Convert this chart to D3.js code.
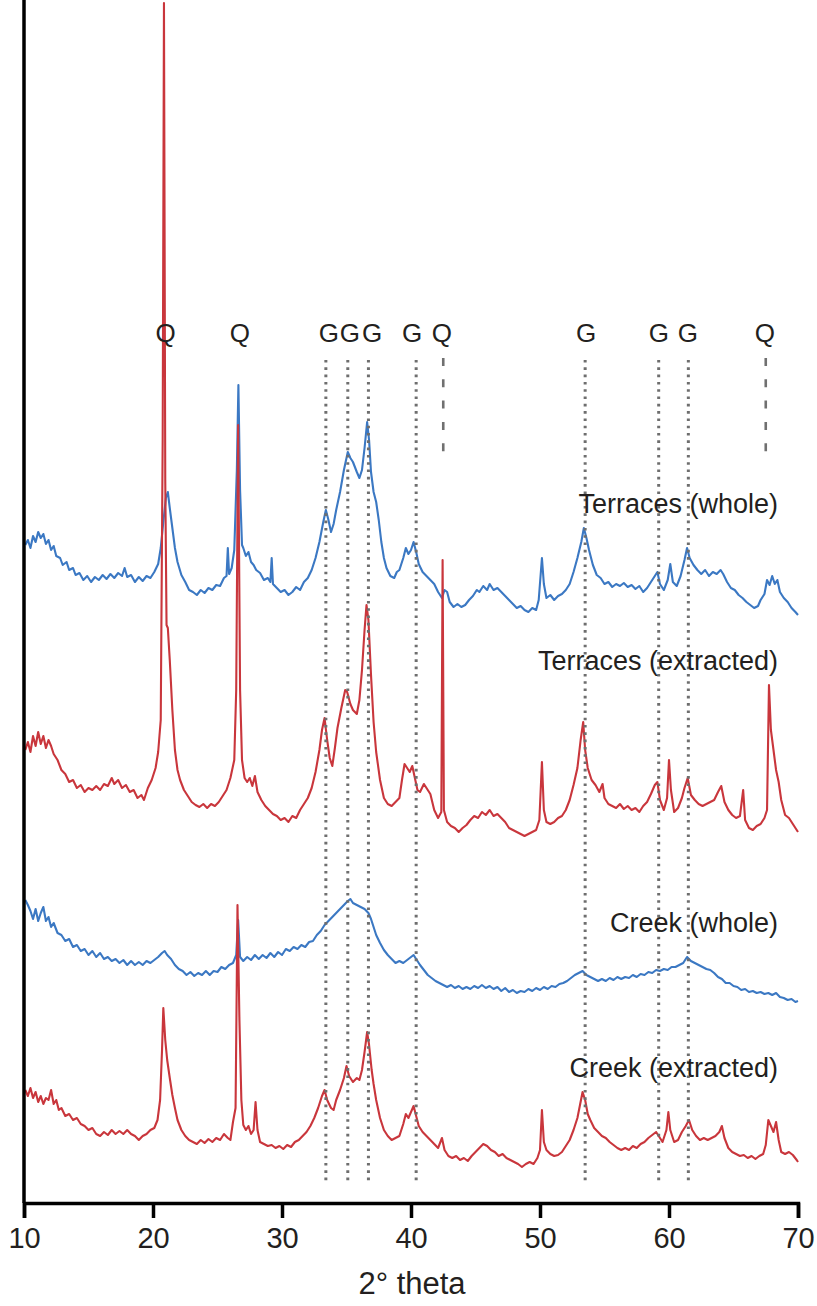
<!DOCTYPE html>
<html>
<head>
<meta charset="utf-8">
<script src="https://cdn.jsdelivr.net/npm/d3@7"></script>
<style>
  body { margin: 0; background: #fff; }
  svg { display: block; }
</style>
</head>
<body>
<div id="chart"></div>
<script>
// XRD patterns, 2-theta vs intensity (arbitrary units)

const terracesWhole = [
  [10.1,75],[10.3,80],[10.5,72],[10.7,84],[10.9,78],[11.1,88],[11.3,82],[11.5,86],[11.7,76],[11.9,80],
  [12.1,70],[12.3,74],[12.5,64],[12.8,62],[13.0,55],[13.3,58],[13.5,50],[13.8,52],[14.0,45],[14.3,47],
  [14.6,40],[14.9,44],[15.2,38],[15.5,43],[15.8,40],[16.1,45],[16.4,41],[16.7,46],[17.0,42],[17.3,47],
  [17.6,44],[17.8,52],[18.0,43],[18.3,45],[18.6,38],[18.9,43],[19.2,39],[19.5,44],[19.8,42],[20.1,48],
  [20.4,56],[20.6,72],[20.8,98],[21.0,122],[21.15,128],[21.3,112],[21.5,92],[21.7,72],[21.9,58],[22.2,45],
  [22.5,38],[22.8,30],[23.1,28],[23.4,25],[23.7,30],[24.0,27],[24.3,32],[24.6,30],[24.9,35],[25.2,34],
  [25.5,42],[25.7,44],[25.8,72],[25.9,46],[26.1,52],[26.3,70],[26.5,150],[26.62,235],[26.75,130],[26.9,75],
  [27.0,72],[27.2,64],[27.4,68],[27.6,58],[27.8,55],[28.0,50],[28.3,47],[28.6,40],[28.9,42],[29.1,38],
  [29.2,62],[29.3,36],[29.6,32],[29.9,28],[30.2,30],[30.5,25],[30.8,28],[31.1,33],[31.4,30],[31.7,38],
  [32.0,42],[32.3,50],[32.6,62],[32.9,78],[33.2,98],[33.4,110],[33.6,100],[33.8,88],[34.0,96],[34.2,110],
  [34.5,128],[34.8,150],[35.1,168],[35.3,162],[35.5,158],[35.8,148],[36.0,142],[36.2,150],[36.4,172],[36.6,198],
  [36.75,180],[36.9,148],[37.1,128],[37.3,118],[37.5,100],[37.7,78],[37.9,62],[38.1,52],[38.4,44],[38.7,42],
  [38.9,48],[39.1,50],[39.4,62],[39.6,72],[39.8,66],[40.0,70],[40.2,78],[40.4,68],[40.6,56],[40.9,48],
  [41.2,44],[41.5,40],[41.8,36],[42.1,28],[42.4,22],[42.6,30],[42.8,28],[43.0,18],[43.3,13],[43.6,16],
  [43.9,13],[44.2,15],[44.5,20],[44.8,24],[45.1,30],[45.3,28],[45.6,34],[45.9,30],[46.1,36],[46.4,30],
  [46.7,32],[47.0,28],[47.3,24],[47.6,20],[47.9,16],[48.2,12],[48.5,14],[48.8,10],[49.1,8],[49.4,12],
  [49.7,10],[49.9,20],[50.15,62],[50.3,36],[50.5,22],[50.8,25],[51.1,20],[51.4,24],[51.7,26],[52.0,30],
  [52.3,36],[52.6,48],[52.9,62],[53.2,78],[53.4,92],[53.6,82],[53.8,70],[54.1,55],[54.4,45],[54.7,42],
  [55.0,36],[55.3,38],[55.6,33],[55.9,36],[56.2,34],[56.5,37],[56.8,33],[57.1,35],[57.4,31],[57.7,34],
  [58.0,28],[58.3,32],[58.6,38],[58.9,44],[59.1,48],[59.3,36],[59.6,30],[59.9,40],[60.1,56],[60.3,38],
  [60.6,34],[60.9,44],[61.2,60],[61.4,72],[61.6,62],[61.9,55],[62.2,50],[62.5,46],[62.8,50],[63.1,44],
  [63.4,48],[63.7,46],[64.0,50],[64.2,46],[64.5,38],[64.8,32],[65.1,30],[65.4,25],[65.7,22],[66.0,18],
  [66.3,15],[66.6,12],[66.9,14],[67.1,20],[67.4,26],[67.6,40],[67.8,35],[68.0,44],[68.2,36],[68.4,40],
  [68.6,28],[68.9,22],[69.2,18],[69.5,12],[69.8,8],[70.0,5]
];

const terracesExtracted = [
  [10.1,90],[10.3,98],[10.5,88],[10.7,104],[10.9,94],[11.1,108],[11.3,96],[11.5,104],[11.7,92],[11.9,100],
  [12.1,94],[12.3,86],[12.6,80],[12.9,70],[13.2,66],[13.5,58],[13.8,60],[14.1,52],[14.4,55],[14.7,48],
  [15.0,52],[15.3,50],[15.6,54],[15.9,50],[16.2,56],[16.5,54],[16.8,62],[17.0,56],[17.3,60],[17.6,52],
  [17.9,55],[18.2,48],[18.5,50],[18.8,42],[19.1,45],[19.3,40],[19.6,52],[19.9,60],[20.2,72],[20.4,88],
  [20.6,120],[20.75,400],[20.85,837],[20.95,360],[21.05,215],[21.15,212],[21.3,180],[21.5,130],[21.7,90],[21.9,70],
  [22.1,60],[22.4,50],[22.7,44],[23.0,38],[23.3,35],[23.6,33],[23.9,36],[24.2,32],[24.5,36],[24.8,34],
  [25.1,38],[25.4,44],[25.7,50],[26.0,62],[26.3,80],[26.45,150],[26.6,415],[26.75,150],[26.9,80],[27.1,62],
  [27.3,58],[27.5,62],[27.7,54],[27.9,64],[28.1,48],[28.4,40],[28.7,34],[29.0,30],[29.3,26],[29.6,24],
  [29.9,20],[30.2,22],[30.5,18],[30.8,24],[31.1,22],[31.4,30],[31.7,36],[32.0,42],[32.3,52],[32.6,68],
  [32.9,90],[33.1,110],[33.3,122],[33.5,100],[33.7,82],[33.9,74],[34.1,92],[34.3,112],[34.6,132],[34.9,150],
  [35.05,148],[35.3,136],[35.5,130],[35.8,126],[36.0,140],[36.2,170],[36.4,210],[36.55,235],[36.7,220],[36.9,165],
  [37.1,118],[37.3,88],[37.6,60],[37.9,42],[38.2,36],[38.5,34],[38.8,38],[39.1,42],[39.3,60],[39.5,76],
  [39.7,72],[39.9,68],[40.1,74],[40.3,62],[40.5,50],[40.7,48],[41.0,56],[41.2,52],[41.5,46],[41.8,30],
  [42.1,22],[42.35,28],[42.45,280],[42.55,30],[42.8,18],[43.1,14],[43.4,12],[43.7,8],[44.0,12],[44.3,15],
  [44.6,20],[44.9,24],[45.2,22],[45.5,28],[45.8,25],[46.1,30],[46.4,24],[46.7,26],[47.0,22],[47.3,18],
  [47.6,12],[47.9,10],[48.2,8],[48.5,6],[48.8,4],[49.1,6],[49.4,8],[49.7,10],[49.95,20],[50.15,78],
  [50.3,30],[50.5,18],[50.8,16],[51.1,18],[51.4,22],[51.7,24],[52.0,30],[52.3,40],[52.6,55],[52.9,72],
  [53.15,100],[53.35,118],[53.5,90],[53.7,72],[54.0,60],[54.3,55],[54.6,48],[54.85,56],[55.0,42],[55.3,36],
  [55.6,34],[55.9,32],[56.2,36],[56.5,31],[56.8,34],[57.1,30],[57.4,32],[57.7,28],[58.0,34],[58.3,38],
  [58.6,46],[58.9,55],[59.1,58],[59.3,40],[59.6,30],[59.85,42],[60.0,80],[60.15,50],[60.4,28],[60.7,32],
  [61.0,42],[61.2,52],[61.45,62],[61.7,45],[62.0,40],[62.3,36],[62.6,34],[62.9,36],[63.2,38],[63.5,40],
  [63.8,48],[64.05,54],[64.3,38],[64.6,30],[64.9,25],[65.2,22],[65.5,24],[65.75,50],[65.9,20],[66.2,12],
  [66.5,10],[66.8,14],[67.1,16],[67.4,22],[67.6,30],[67.75,155],[67.9,110],[68.1,90],[68.3,70],[68.5,58],
  [68.7,40],[69.0,25],[69.3,22],[69.6,16],[69.9,10],[70.0,8]
];

const creekWhole = [
  [10.1,105],[10.3,100],[10.5,94],[10.7,86],[10.9,96],[11.1,84],[11.3,92],[11.5,98],[11.7,84],[11.9,88],
  [12.1,78],[12.3,82],[12.6,72],[12.9,70],[13.2,64],[13.5,66],[13.8,58],[14.1,60],[14.4,54],[14.7,56],
  [15.0,50],[15.3,54],[15.6,48],[15.9,52],[16.2,46],[16.5,48],[16.8,44],[17.1,46],[17.4,42],[17.7,45],
  [18.0,40],[18.3,44],[18.6,40],[18.9,43],[19.2,40],[19.5,44],[19.8,42],[20.1,45],[20.4,48],[20.7,52],
  [20.9,54],[21.1,50],[21.4,46],[21.7,40],[22.0,36],[22.3,34],[22.6,30],[22.9,33],[23.2,29],[23.5,32],
  [23.8,30],[24.1,34],[24.4,30],[24.7,34],[25.0,33],[25.3,38],[25.6,36],[25.9,40],[26.2,42],[26.45,50],
  [26.6,85],[26.75,48],[27.0,44],[27.3,48],[27.6,45],[27.9,50],[28.2,46],[28.5,50],[28.8,47],[29.1,52],
  [29.4,48],[29.7,53],[30.0,50],[30.3,56],[30.6,54],[30.9,58],[31.2,56],[31.5,60],[31.8,58],[32.1,63],
  [32.4,64],[32.7,70],[33.0,74],[33.3,80],[33.6,84],[33.9,88],[34.2,92],[34.5,96],[34.8,100],[35.1,104],
  [35.3,106],[35.5,102],[35.8,100],[36.1,98],[36.4,96],[36.7,92],[36.9,86],[37.1,78],[37.3,70],[37.6,62],
  [37.9,55],[38.2,50],[38.5,46],[38.8,42],[39.1,44],[39.4,42],[39.7,45],[40.0,48],[40.2,50],[40.4,46],
  [40.7,40],[41.0,35],[41.3,30],[41.6,27],[41.9,24],[42.2,22],[42.5,20],[42.8,18],[43.1,20],[43.4,17],
  [43.7,19],[44.0,16],[44.3,18],[44.6,16],[44.9,19],[45.2,17],[45.5,20],[45.8,17],[46.1,19],[46.4,16],
  [46.7,18],[47.0,14],[47.3,17],[47.6,13],[47.9,15],[48.2,12],[48.5,14],[48.8,13],[49.1,16],[49.4,14],
  [49.7,17],[50.0,15],[50.3,18],[50.6,16],[50.9,19],[51.2,18],[51.5,21],[51.8,22],[52.1,24],[52.4,27],
  [52.7,30],[53.0,32],[53.3,34],[53.6,30],[53.9,28],[54.2,26],[54.5,24],[54.8,26],[55.1,24],[55.4,27],
  [55.7,25],[56.0,28],[56.3,26],[56.6,28],[56.9,27],[57.2,30],[57.5,28],[57.8,31],[58.1,30],[58.4,33],
  [58.7,32],[59.0,35],[59.3,34],[59.6,36],[59.9,35],[60.2,38],[60.5,38],[60.8,40],[61.1,42],[61.4,48],
  [61.7,44],[62.0,42],[62.3,40],[62.6,38],[62.9,36],[63.2,35],[63.5,32],[63.8,28],[64.1,26],[64.4,22],
  [64.7,22],[65.0,19],[65.3,18],[65.6,15],[65.9,16],[66.2,13],[66.5,14],[66.8,12],[67.1,13],[67.4,11],
  [67.7,12],[68.0,10],[68.3,12],[68.6,8],[68.9,7],[69.2,5],[69.5,6],[69.8,3],[70.0,4]
];

const creekExtracted = [
  [10.1,80],[10.3,74],[10.5,82],[10.7,72],[10.9,78],[11.1,68],[11.3,74],[11.5,66],[11.7,72],[11.9,70],
  [12.1,80],[12.3,66],[12.5,70],[12.7,60],[12.9,62],[13.2,54],[13.5,56],[13.8,50],[14.1,52],[14.4,46],
  [14.7,44],[15.0,40],[15.3,42],[15.6,36],[15.9,34],[16.2,38],[16.5,35],[16.8,40],[17.1,36],[17.4,39],
  [17.7,36],[18.0,40],[18.3,36],[18.6,34],[18.9,30],[19.2,34],[19.5,36],[19.8,40],[20.1,42],[20.35,50],
  [20.55,70],[20.7,120],[20.8,162],[20.95,130],[21.1,110],[21.3,92],[21.5,75],[21.7,62],[21.9,50],[22.2,40],
  [22.5,34],[22.8,30],[23.1,28],[23.4,26],[23.7,30],[24.0,27],[24.3,31],[24.6,28],[24.9,32],[25.2,30],
  [25.5,36],[25.8,32],[26.0,30],[26.2,48],[26.4,62],[26.55,265],[26.7,150],[26.85,70],[27.0,45],[27.2,40],
  [27.4,44],[27.6,36],[27.8,40],[27.95,68],[28.1,40],[28.3,28],[28.6,26],[28.9,24],[29.2,25],[29.5,22],
  [29.8,24],[30.1,21],[30.4,25],[30.7,23],[31.0,28],[31.3,30],[31.6,34],[31.9,38],[32.2,44],[32.5,52],
  [32.8,62],[33.1,74],[33.3,80],[33.5,70],[33.8,62],[34.0,60],[34.2,70],[34.5,80],[34.8,92],[35.0,104],
  [35.2,94],[35.5,88],[35.8,92],[36.0,90],[36.2,100],[36.4,118],[36.6,138],[36.75,125],[36.95,100],[37.1,86],
  [37.3,70],[37.6,52],[37.9,40],[38.2,34],[38.5,30],[38.8,32],[39.1,34],[39.4,46],[39.6,56],[39.8,52],
  [40.0,58],[40.2,64],[40.4,54],[40.6,44],[40.9,38],[41.2,34],[41.5,30],[41.8,26],[42.1,22],[42.4,32],
  [42.6,20],[42.9,14],[43.2,12],[43.5,14],[43.8,10],[44.1,12],[44.4,9],[44.7,14],[45.0,18],[45.3,22],
  [45.6,26],[45.9,24],[46.2,20],[46.5,18],[46.8,14],[47.1,16],[47.4,12],[47.7,10],[48.0,8],[48.3,6],
  [48.6,3],[48.9,6],[49.2,8],[49.5,6],[49.8,12],[50.0,20],[50.15,60],[50.3,28],[50.5,20],[50.8,16],
  [51.1,14],[51.4,15],[51.7,18],[52.0,24],[52.3,30],[52.6,40],[52.9,52],[53.1,65],[53.3,78],[53.5,70],
  [53.7,56],[53.9,50],[54.2,42],[54.5,38],[54.8,34],[55.1,32],[55.4,28],[55.7,25],[56.0,22],[56.3,20],
  [56.6,22],[56.9,20],[57.2,24],[57.5,22],[57.8,26],[58.1,28],[58.4,32],[58.7,35],[59.0,38],[59.2,34],
  [59.5,28],[59.8,40],[59.95,58],[60.1,40],[60.4,28],[60.7,30],[61.0,38],[61.3,44],[61.55,50],[61.8,40],
  [62.1,34],[62.4,30],[62.7,32],[63.0,30],[63.3,32],[63.6,34],[63.9,38],[64.1,44],[64.3,32],[64.6,22],
  [64.9,18],[65.2,16],[65.5,14],[65.8,15],[66.1,12],[66.4,14],[66.7,11],[67.0,14],[67.3,16],[67.5,25],
  [67.7,50],[67.9,44],[68.1,38],[68.3,48],[68.5,30],[68.7,18],[69.0,16],[69.3,18],[69.6,15],[69.9,10],
  [70.0,8]
];

// series names, stacking offsets and colours
const seriesNames = ["Terraces (whole)", "Terraces (extracted)", "Creek (whole)", "Creek (extracted)"];
const seriesData = [terracesWhole, terracesExtracted, creekWhole, creekExtracted];
const seriesOffsets = [583, 363, 198, 33];
const seriesLabelY = [107, 170, 73, 93];
const seriesColors = ["#3b78c3", "#c9363c", "#3b78c3", "#c9363c"];

// phase markers: G = goethite (dotted), Q = quartz (dashed)
const markerLines = [33.4, 35.1, 36.7, 40.4, 53.5, 59.2, 61.5];
const quartzLines = [42.5, 67.5];
const phaseLabels = [
  ["Q", 20.98], ["Q", 26.74], ["G", 33.64], ["G", 35.27], ["G", 36.98], ["G", 40.08],
  ["Q", 42.4], ["G", 53.57], ["G", 59.22], ["G", 61.47], ["Q", 67.44]
];

const xTicks = [10, 20, 30, 40, 50, 60, 70];

const width = 817, height = 1306;
const x = d3.scaleLinear().domain([10, 70]).range([24, 798]);
const y = d3.scaleLinear().domain([0, 1200]).range([1203, 3]);

const svg = d3.select("#chart").append("svg")
  .attr("width", width)
  .attr("height", height);

// patterns
const line = d3.line()
  .x(d => x(d[0]))
  .y(d => d[1]);

seriesData.forEach((data, i) => {
  const pts = data.map(d => [d[0], y(d[1] + seriesOffsets[i])]);
  svg.append("path")
    .datum(pts)
    .attr("fill", "none")
    .attr("stroke", seriesColors[i])
    .attr("stroke-width", 2.1)
    .attr("stroke-linejoin", "round")
    .attr("d", line);
});

// dotted goethite lines
svg.append("g").selectAll("line")
  .data(markerLines)
  .join("line")
  .attr("x1", d => x(d)).attr("x2", d => x(d))
  .attr("y1", 360).attr("y2", 1183)
  .attr("stroke", "#6e6e6e")
  .attr("stroke-width", 3)
  .attr("stroke-dasharray", "2.6,4.7");

// dashed quartz lines
svg.append("g").selectAll("line")
  .data(quartzLines)
  .join("line")
  .attr("x1", d => x(d)).attr("x2", d => x(d))
  .attr("y1", 358).attr("y2", 454)
  .attr("stroke", "#707070")
  .attr("stroke-width", 2.6)
  .attr("stroke-dasharray", "8,13.3");

// phase letters
svg.append("g").selectAll("text")
  .data(phaseLabels)
  .join("text")
  .attr("x", d => x(d[1]))
  .attr("y", 342)
  .attr("text-anchor", "middle")
  .attr("font-family", "Liberation Sans, Arial, sans-serif")
  .attr("font-size", 26)
  .attr("fill", "#231f20")
  .text(d => d[0]);

// series labels
svg.append("g").selectAll("text")
  .data(seriesNames)
  .join("text")
  .attr("x", 778)
  .attr("y", (d, i) => y(seriesLabelY[i] + seriesOffsets[i]))
  .attr("text-anchor", "end")
  .attr("font-family", "Liberation Sans, Arial, sans-serif")
  .attr("font-size", 27)
  .attr("fill", "#231f20")
  .text(d => d);

// axes
const xAxis = d3.axisBottom(x)
  .tickValues(xTicks)
  .tickSize(15)
  .tickPadding(9)
  .tickFormat(d3.format("d"));

const gx = svg.append("g")
  .attr("transform", "translate(0,1203)")
  .call(xAxis);
gx.select(".domain").attr("stroke", "#000").attr("stroke-width", 3.5);
gx.selectAll(".tick line").attr("stroke", "#000").attr("stroke-width", 3.5);
gx.selectAll(".tick text")
  .attr("font-family", "Liberation Sans Narrow, Arial Narrow, sans-serif")
  .attr("font-size", 29)
  .attr("fill", "#231f20");

svg.append("line")
  .attr("x1", x(10)).attr("x2", x(10))
  .attr("y1", 0).attr("y2", 1203)
  .attr("stroke", "#000")
  .attr("stroke-width", 3.5);

svg.append("text")
  .attr("x", 412)
  .attr("y", 1294)
  .attr("text-anchor", "middle")
  .attr("font-family", "Liberation Sans Narrow, Arial Narrow, sans-serif")
  .attr("font-size", 31)
  .attr("fill", "#231f20")
  .text("2° theta");
</script>
</body>
</html>
